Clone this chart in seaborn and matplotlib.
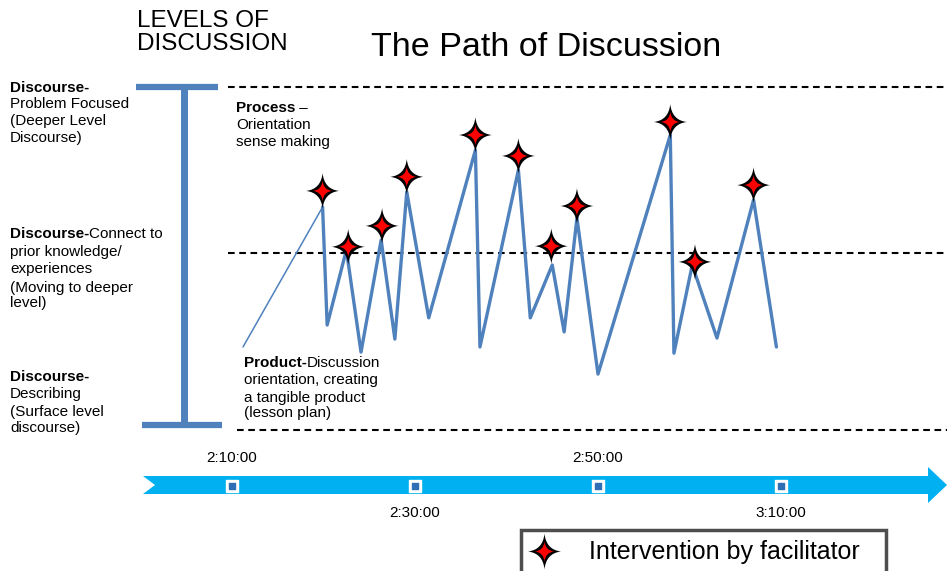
import matplotlib
matplotlib.use("Agg")
import matplotlib.pyplot as plt
from matplotlib.path import Path
from matplotlib.markers import MarkerStyle
from matplotlib.lines import Line2D
from matplotlib.patches import Polygon
from matplotlib.legend_handler import HandlerTuple
import seaborn as sns

# ---------------- data ----------------
# time in minutes after 2:00:00, discussion depth 0 (surface) .. 100 (problem focused)
path_minutes = [11.2, 19.9, 20.4, 22.5, 24.1, 26.3, 27.8, 29.1, 31.5, 36.6, 37.1, 41.3,
                42.6, 45.0, 46.3, 47.7, 50.0, 57.9, 58.3, 60.3, 63.0, 67.0, 69.5]
path_depth = [24.2, 65.0, 30.6, 52.5, 22.7, 55.4, 26.5, 69.4, 32.7, 81.6, 24.2, 75.8,
              32.7, 48.1, 28.6, 61.8, 16.3, 86.0, 22.4, 48.1, 26.8, 67.1, 24.2]
star_minutes = [19.9, 22.7, 26.4, 29.1, 36.6, 41.3, 44.9, 47.7, 57.9, 60.6, 67.0]
star_depth = [69.7, 53.4, 59.5, 73.8, 86.0, 79.9, 53.6, 65.3, 89.8, 49.0, 71.4]
level_depth = [100, 51.6, 0]
tick_minutes = [10, 30, 50, 70]
tick_labels = ["2:10:00", "2:30:00", "2:50:00", "3:10:00"]

level_texts = [
    [("Discourse-", True), ("Problem Focused", False), ("(Deeper Level", False), ("Discourse)", False)],
    [("Discourse-", True, "Connect to"), ("prior knowledge/", False), ("experiences", False),
     ("(Moving to deeper", False), ("level)", False)],
    [("Discourse-", True), ("Describing", False), ("(Surface level", False), ("discourse)", False)],
]
process_text = [("Process", True, " \u2013"), ("Orientation", False), ("sense making", False)]
product_text = [("Product-", True, "Discussion"), ("orientation, creating", False),
                ("a tangible product", False), ("(lesson plan)", False)]
legend_label = "Intervention by facilitator"

# ---------------- style ----------------
sns.set_style("white")
plt.rcParams['font.family'] = ['Liberation Sans', 'DejaVu Sans']
plt.rcParams['text.color'] = 'black'

W, H = 947, 571
fig = plt.figure(figsize=(W / 100, H / 100), dpi=100)
ax = fig.add_axes([0, 0, 1, 1])
ax.set_xlim(10 - 232 / 9.15, 10 + (W - 232) / 9.15)
ax.set_ylim((430 - H) / 3.43, 430 / 3.43)
ax.axis('off')


def fx(px):
    return px / W


def fy(py):
    return 1 - py / H


LINE = '#4F81BD'

# dashed level lines
for d, x0 in zip(level_depth, [228, 228, 237]):
    ax.axhline(d, xmin=fx(x0), xmax=1, color='black', lw=1.5, ls=(0, (3.2, 2.2)), zorder=1)

# I-beam
ax.plot([fx(184), fx(184)], [fy(87), fy(425)], transform=ax.transAxes, color=LINE,
        lw=5, solid_capstyle='butt')
ax.plot([fx(136), fx(218)], [fy(87), fy(87)], transform=ax.transAxes, color=LINE,
        lw=4.5, solid_capstyle='butt')
ax.plot([fx(142), fx(222)], [fy(425), fy(425)], transform=ax.transAxes, color=LINE,
        lw=4.5, solid_capstyle='butt')

# discussion path
sns.lineplot(x=path_minutes[:2], y=path_depth[:2], sort=False, estimator=None,
             color=LINE, lw=1.1, ax=ax, zorder=3)
sns.lineplot(x=path_minutes[1:], y=path_depth[1:], sort=False, estimator=None,
             color=LINE, lw=2.4, ax=ax, zorder=3)


# star markers (curved 4-point stars)
def curved_star(c, sy=1.0):
    verts = [(0, sy), (c, c), (1, 0), (c, -c), (0, -sy), (-c, -c), (-1, 0), (-c, c), (0, sy)]
    codes = [Path.MOVETO] + [Path.CURVE3, Path.CURVE3] * 4
    return Path(verts, codes)


star_outer = MarkerStyle(curved_star(0.1, 1.08))
star_inner = MarkerStyle(curved_star(0.09, 1.05))
sns.scatterplot(x=star_minutes, y=star_depth, marker=star_outer, s=660,
                color='black', edgecolor='none', linewidth=0, ax=ax, zorder=5)
sns.scatterplot(x=star_minutes, y=star_depth, marker=star_inner, s=210,
                color='red', edgecolor='none', linewidth=0, ax=ax, zorder=6)

# titles
ax.text(fx(137), fy(21), "LEVELS OF", transform=ax.transAxes, fontsize=17.5, va='center', ha='left')
ax.text(fx(137), fy(44), "DISCUSSION", transform=ax.transAxes, fontsize=17.5, va='center', ha='left')
ax.text(fx(546), fy(47), "The Path of Discussion", transform=ax.transAxes, fontsize=24.5,
        va='center', ha='center')


def text_block(x, ys, lines, fs=11):
    for y, item in zip(ys, lines):
        t = ax.text(fx(x), fy(y), item[0], transform=ax.transAxes, fontsize=fs,
                    fontweight='bold' if item[1] else 'normal', va='baseline', ha='left')
        if len(item) > 2:
            ax.annotate(item[2], xy=(1, 0), xycoords=t, fontsize=fs, va='bottom', ha='left')


text_block(10, [92, 108, 125, 142], level_texts[0])
text_block(10, [238, 256, 273, 292, 307], level_texts[1])
text_block(10, [381, 398, 416, 432], level_texts[2])
text_block(236, [112, 129, 146], process_text)
text_block(244, [367, 384, 402, 417], product_text)

# timeline arrow
arrow_px = [(143, 476), (928, 476), (928, 467), (947, 485), (928, 503), (928, 494),
            (143, 494), (155, 485)]
ax.add_patch(Polygon([(fx(x), fy(y)) for x, y in arrow_px], closed=True, transform=ax.transAxes,
                     facecolor='#00B0F0', edgecolor='none', zorder=2))
tl_y = (430 - 486) / 3.43
ax.scatter(tick_minutes, [tl_y] * 4, marker='s', s=70, color='white', zorder=3)
ax.scatter(tick_minutes, [tl_y] * 4, marker='s', s=16, color='#2F6FB5', zorder=4)
for i, (m, lab) in enumerate(zip(tick_minutes, tick_labels)):
    ypx = 458 if i % 2 == 0 else 513
    ax.text(m, (430 - ypx) / 3.43, lab, fontsize=11, ha='center', va='center')

# legend
handle = (Line2D([], [], ls='', marker=star_outer, ms=25.7, color='black', mew=0),
          Line2D([], [], ls='', marker=star_inner, ms=14.5, color='red', mew=0))
leg = ax.legend([handle], [legend_label], handler_map={tuple: HandlerTuple(ndivide=1, pad=0)},
                loc='upper left', bbox_to_anchor=(fx(521), fy(530) - 0.08, fx(886) - fx(521), 0.08),
                mode='expand', borderaxespad=0,
                frameon=True, fancybox=False, fontsize=18, handlelength=1.0, handletextpad=1.3,
                borderpad=0.42)
leg.get_frame().set_edgecolor('#222222')
leg.get_frame().set_linewidth(2.5)

fig.savefig("out.png", dpi=100)
